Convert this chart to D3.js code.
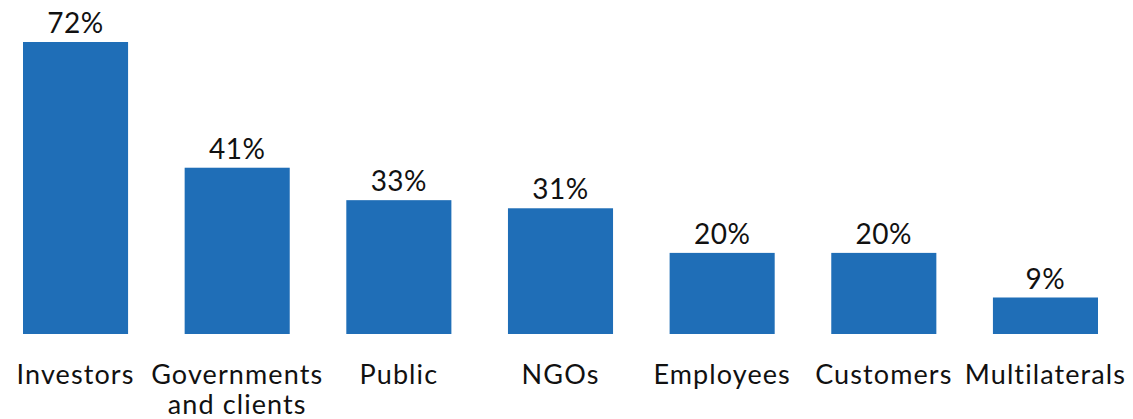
<!DOCTYPE html>
<html>
<head>
<meta charset="utf-8">
<script src="https://cdn.jsdelivr.net/npm/d3@7"></script>
<style>
  body { margin: 0; background: #fff; }
  text { font-family: Lato, "Open Sans", sans-serif; fill: #111; }
</style>
</head>
<body>
<script>
var width = 1133,
    height = 419;

// data
var categories = ["Investors", "Governments and clients", "Public", "NGOs", "Employees", "Customers", "Multilaterals"];
var labelLines = [["Investors"], ["Governments", "and clients"], ["Public"], ["NGOs"], ["Employees"], ["Customers"], ["Multilaterals"]];
var values = [72, 41, 33, 31, 20, 20, 9];

var baseline = 334,
    barColor = "#1f6eb7";

var svg = d3.select("body")
    .append("svg")
    .attr("width", width)
    .attr("height", height);

var x = d3.scaleBand()
    .domain(categories)
    .range([23, 1098])
    .paddingInner(0.35)
    .paddingOuter(0);

var y = d3.scaleLinear()
    .domain([0, 72])
    .range([baseline, 42]);

//bars
svg.selectAll(".bar")
    .data(values)
    .enter().append("rect")
    .attr("class", "bar")
    .attr("x", function(d, i) { return x(categories[i]); })
    .attr("y", function(d) { return y(d); })
    .attr("width", x.bandwidth())
    .attr("height", function(d) { return baseline - y(d); })
    .attr("fill", barColor);

//value labels
svg.selectAll(".val")
    .data(values)
    .enter().append("text")
    .attr("class", "val")
    .attr("x", function(d, i) { return x(categories[i]) + x.bandwidth() / 2; })
    .attr("y", function(d) { return y(d) - 9; })
    .attr("text-anchor", "middle")
    .attr("font-size", "28px")
    .attr("letter-spacing", "0.5px")
    .text(function(d) { return d + "%"; });

//category labels, one text per line
var cat = svg.selectAll(".cat")
    .data(categories)
    .enter().append("g")
    .attr("class", "cat")
    .attr("transform", function(d) { return "translate(" + (x(d) + x.bandwidth() / 2) + ",384)"; });

cat.selectAll("text")
    .data(function(d, i) { return labelLines[i]; })
    .enter().append("text")
    .attr("y", function(d, j) { return j * 30; })
    .attr("text-anchor", "middle")
    .attr("font-size", "27px")
    .attr("letter-spacing", "1.1px")
    .text(function(d) { return d; });
</script>
</body>
</html>
